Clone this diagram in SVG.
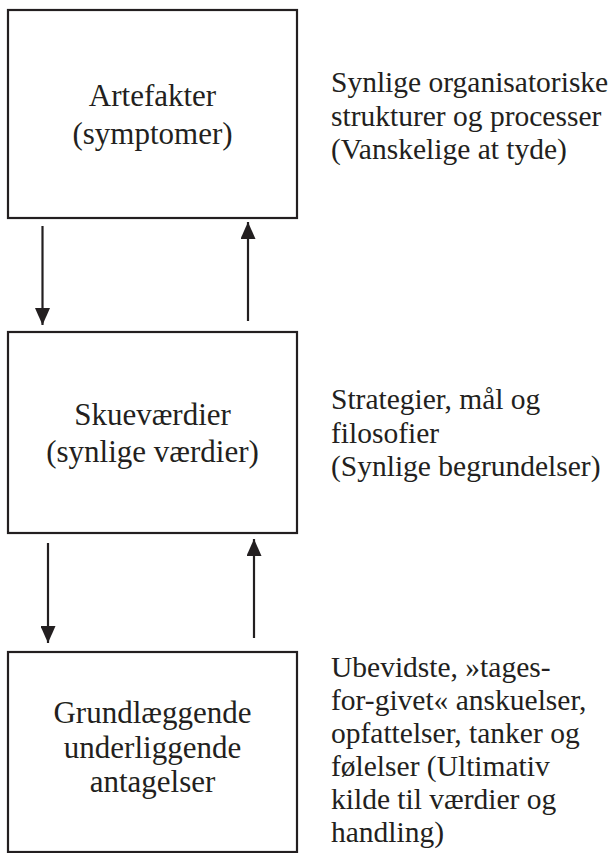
<svg xmlns="http://www.w3.org/2000/svg" width="608" height="853" viewBox="0 0 608 853">
<style>
.box{fill:#fff;stroke:#231f20;stroke-width:2.2}
.lbl{font-size:31px;fill:#231f20;text-anchor:middle}
.desc{font-size:29.5px;fill:#231f20}
.conn{stroke:#231f20;stroke-width:2.2;fill:none;marker-end:url(#ah)}
</style>
<defs>
<marker id="ah" markerUnits="userSpaceOnUse" markerWidth="18" markerHeight="15" refX="17" refY="7.5" orient="auto" viewBox="0 0 18 15">
<path d="M0,0 L17,7.5 L0,15 z" fill="#231f20"/>
</marker>
</defs>
<rect width="608" height="853" fill="#fff"/>
<g id="artefakter" font-family="Liberation Serif">
<rect class="box" x="8" y="10" width="289" height="208"/>
<text class="lbl" x="152.5" y="106">Artefakter</text>
<text class="lbl" x="152.5" y="144">(symptomer)</text>
</g>
<g id="skuevaerdier" font-family="Liberation Serif">
<rect class="box" x="8" y="332" width="289" height="201"/>
<text class="lbl" x="152.5" y="425">Skueværdier</text>
<text class="lbl" x="152.5" y="462">(synlige værdier)</text>
</g>
<g id="antagelser" font-family="Liberation Serif">
<rect class="box" x="8" y="652" width="289" height="200"/>
<text class="lbl" x="152.5" y="723">Grundlæggende</text>
<text class="lbl" x="152.5" y="758">underliggende</text>
<text class="lbl" x="152.5" y="792">antagelser</text>
</g>
<g id="desc1" font-family="Liberation Serif">
<text class="desc" x="331" y="92">Synlige organisatoriske</text>
<text class="desc" x="331" y="126">strukturer og processer</text>
<text class="desc" x="331" y="159">(Vanskelige at tyde)</text>
</g>
<g id="desc2" font-family="Liberation Serif">
<text class="desc" x="331" y="409">Strategier, mål og</text>
<text class="desc" x="331" y="443">filosofier</text>
<text class="desc" x="331" y="476">(Synlige begrundelser)</text>
</g>
<g id="desc3" font-family="Liberation Serif">
<text class="desc" x="331" y="677">Ubevidste, »tages-</text>
<text class="desc" x="331" y="710">for-givet« anskuelser,</text>
<text class="desc" x="331" y="743">opfattelser, tanker og</text>
<text class="desc" x="331" y="776">følelser (Ultimativ</text>
<text class="desc" x="331" y="809">kilde til værdier og</text>
<text class="desc" x="331" y="842">handling)</text>
</g>
<g id="connectors">
<line class="conn" x1="42.5" y1="226" x2="42.5" y2="325"/>
<line class="conn" x1="248" y1="321" x2="248" y2="222"/>
<line class="conn" x1="48" y1="543" x2="48" y2="643"/>
<line class="conn" x1="254" y1="638" x2="254" y2="539"/>
</g>
</svg>
